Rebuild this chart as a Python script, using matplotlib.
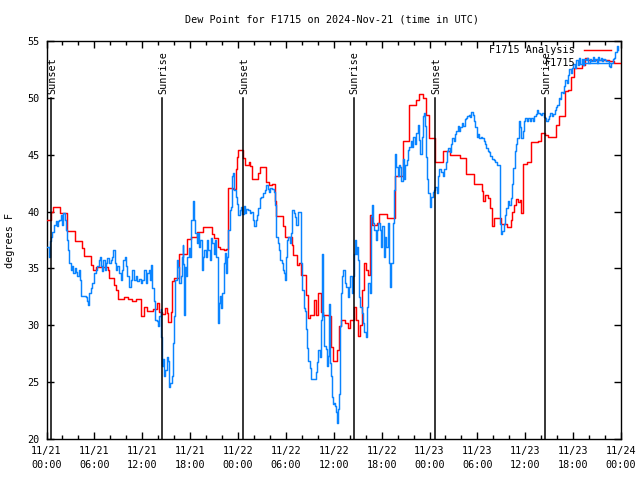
import matplotlib
matplotlib.use('Agg')
import matplotlib.pyplot as plt
from matplotlib.ticker import MultipleLocator

plt.rcParams['font.family'] = ['DejaVu Sans Mono']
FS = 7.3

title = "Dew Point for F1715 on 2024-Nov-21 (time in UTC)"
ylabel = "degrees F"

# hours since 2024-11-21 00:00 UTC
analysis_hours = [0.0, 0.6, 0.85, 1.69, 2.53, 3.6, 4.44, 4.69, 5.61, 5.86, 6.2, 7.7, 7.86, 8.45, 8.66,
    8.95, 9.7, 10.2, 10.7, 11.2, 11.79, 12.2, 12.62, 13.37, 13.83, 14.08, 14.46, 14.83, 15.08,
    15.27, 15.58, 15.77, 15.96, 16.58, 17.58, 18.17, 18.8, 19.62, 20.68, 20.96, 21.5, 21.8, 22.2,
    22.55, 22.75, 23.38, 23.72, 23.88, 24.0, 24.63, 24.84, 25.38, 25.56, 25.81, 26.5, 26.72,
    27.47, 27.88, 28.31, 28.64, 28.81, 29.64, 29.89, 30.73, 30.89, 31.39, 31.64, 31.94, 32.57,
    32.77, 32.98, 33.48, 33.73, 34.02, 34.44, 34.64, 35.39, 35.69, 35.9, 36.4, 36.61, 36.95,
    37.36, 37.77, 38.07, 38.49, 38.74, 39.02, 39.32, 39.57, 39.74, 39.99, 40.28, 40.58, 40.83,
    41.4, 41.65, 42.65, 43.62, 44.66, 45.49, 46.33, 46.66, 47.16, 47.58, 47.91, 48.75, 49.67,
    50.53, 51.79, 52.55, 53.58, 54.56, 54.76, 54.98, 55.38, 55.61, 55.82, 56.03, 56.97, 57.73,
    58.16, 58.37, 58.59, 58.8, 59.09, 59.3, 59.51, 59.76, 60.27, 60.7, 61.55, 61.98, 62.49,
    62.83, 63.89, 64.18, 64.94, 65.37, 65.79, 66.13, 67.07, 67.5, 67.92, 70.46, 71.1, 72.0]
analysis_vals = [39.3, 40.0, 40.4, 39.9, 38.3, 37.4, 36.8, 36.1, 35.3, 34.9, 35.1, 34.9, 34.2, 33.5, 33.1,
    32.3, 32.5, 32.3, 32.1, 32.3, 30.8, 31.6, 31.3, 31.4, 32.0, 31.2, 31.0, 31.5, 31.1,
    30.3, 31.2, 33.9, 34.2, 36.3, 37.6, 37.8, 38.2, 38.6, 38.0, 37.7, 36.9, 36.7, 36.6,
    36.7, 42.1, 42.0, 43.7, 44.8, 45.4, 44.7, 44.1, 44.4, 44.0, 42.9, 43.4, 43.9,
    42.6, 42.3, 42.4, 40.9, 39.6, 38.7, 37.8, 37.1, 36.2, 35.3, 35.5, 34.4, 32.7,
    30.6, 30.9, 32.2, 30.9, 32.8, 31.2, 30.9, 30.8, 28.1, 26.9, 27.8, 29.9, 30.5,
    30.2, 29.8, 30.5, 31.6, 30.5, 29.1, 30.0, 33.1, 35.5, 34.9, 34.4, 39.7, 38.8,
    39.0, 39.8, 39.4, 43.1, 46.2, 49.4, 49.8, 50.3, 50.0, 48.5, 46.5, 44.4, 45.3,
    45.0, 44.7, 43.3, 42.4, 41.8, 40.9, 41.5, 41.2, 40.3, 38.7, 39.4, 38.9, 38.6,
    39.3, 40.0, 40.6, 41.1, 40.8, 41.0, 39.9, 44.2, 44.4, 46.1, 46.2, 46.9, 46.7,
    46.6, 47.6, 48.4, 50.6, 50.7, 51.8, 52.6, 52.9, 53.5, 53.3, 53.2, 53.1, 53.1]

obs_hours = [0.03, 0.31, 0.44, 0.6, 0.73, 0.94, 1.15, 1.27, 1.44, 1.6, 1.77, 1.94, 2.1, 2.27, 2.44, 2.6,
    2.73, 2.86, 3.03, 3.23, 3.36, 3.53, 3.69, 3.86, 4.03, 4.19, 4.36, 4.61, 4.9, 5.11, 5.23, 5.36,
    5.53, 5.73, 5.94, 6.15, 6.36, 6.57, 6.7, 6.86, 6.98, 7.11, 7.28, 7.45, 7.61, 7.82, 8.03, 8.24,
    8.36, 8.53, 8.7, 8.86, 9.07, 9.28, 9.45, 9.61, 9.79, 9.91, 10.11, 10.33, 10.54, 10.74, 10.95,
    11.16, 11.36, 11.58, 11.79, 11.99, 12.2, 12.41, 12.62, 12.83, 12.95, 13.12, 13.24, 13.45,
    13.58, 13.79, 13.95, 14.12, 14.29, 14.37, 14.46, 14.54, 14.71, 14.87, 15.04, 15.21, 15.37,
    15.54, 15.71, 15.87, 15.96, 16.12, 16.3, 16.46, 16.62, 16.8, 16.96, 17.05, 17.12, 17.21,
    17.33, 17.46, 17.62, 17.8, 17.96, 18.12, 18.3, 18.37, 18.5, 18.62, 18.8, 18.96, 19.12, 19.3,
    19.46, 19.62, 19.8, 19.96, 20.13, 20.3, 20.46, 20.63, 20.8, 20.96, 21.13, 21.3, 21.46, 21.55,
    21.63, 21.8, 21.93, 22.05, 22.21, 22.38, 22.55, 22.68, 22.8, 22.97, 23.13, 23.3, 23.43, 23.55,
    23.72, 23.88, 24.05, 24.22, 24.38, 24.56, 24.72, 24.88, 25.06, 25.31, 25.47, 25.68, 25.88,
    26.06, 26.22, 26.38, 26.56, 26.72, 26.93, 27.13, 27.34, 27.56, 27.72, 27.89, 28.06, 28.31,
    28.47, 28.64, 28.81, 28.97, 29.14, 29.31, 29.47, 29.64, 29.81, 29.89, 29.97, 30.14, 30.31,
    30.48, 30.64, 30.81, 30.98, 31.14, 31.31, 31.48, 31.73, 31.85, 31.94, 32.06, 32.23, 32.39,
    32.48, 32.64, 32.82, 32.98, 33.14, 33.39, 33.57, 33.73, 33.89, 34.07, 34.23, 34.39, 34.52,
    34.64, 34.82, 34.98, 35.14, 35.32, 35.39, 35.48, 35.61, 35.73, 35.82, 35.94, 36.07, 36.2,
    36.32, 36.45, 36.57, 36.65, 36.73, 36.82, 36.95, 37.07, 37.2, 37.36, 37.57, 37.77, 37.9,
    38.07, 38.24, 38.36, 38.49, 38.61, 38.74, 38.9, 39.02, 39.15, 39.32, 39.49, 39.65, 39.82,
    39.99, 40.15, 40.32, 40.49, 40.61, 40.74, 40.9, 41.07, 41.24, 41.4, 41.57, 41.74, 41.9,
    42.08, 42.24, 42.4, 42.58, 42.74, 42.9, 43.08, 43.2, 43.4, 43.58, 43.65, 43.83, 43.99, 44.15,
    44.33, 44.49, 44.66, 44.83, 44.99, 45.16, 45.33, 45.49, 45.66, 45.83, 45.99, 46.16, 46.33,
    46.5, 46.66, 46.83, 47.0, 47.16, 47.33, 47.41, 47.5, 47.58, 47.71, 47.83, 48.0, 48.12, 48.25,
    48.41, 48.59, 48.75, 48.91, 49.09, 49.25, 49.46, 49.67, 49.84, 50.01, 50.19, 50.35, 50.53,
    50.69, 50.86, 51.03, 51.2, 51.37, 51.54, 51.72, 51.88, 52.05, 52.22, 52.39, 52.55, 52.73,
    52.9, 53.07, 53.25, 53.41, 53.58, 53.74, 53.92, 54.08, 54.26, 54.43, 54.59, 54.77, 54.93,
    55.11, 55.27, 55.44, 55.61, 55.82, 56.03, 56.25, 56.46, 56.67, 56.8, 56.88, 57.0, 57.13,
    57.3, 57.48, 57.65, 57.82, 57.99, 58.16, 58.32, 58.5, 58.67, 58.84, 59.01, 59.17, 59.35,
    59.51, 59.69, 59.85, 60.03, 60.2, 60.37, 60.54, 60.7, 60.91, 61.13, 61.3, 61.46, 61.64,
    61.8, 61.98, 62.15, 62.32, 62.49, 62.65, 62.83, 62.99, 63.16, 63.33, 63.5, 63.68, 63.84,
    64.02, 64.18, 64.36, 64.52, 64.69, 64.86, 65.03, 65.21, 65.37, 65.54, 65.71, 65.88, 66.04,
    66.22, 66.38, 66.56, 66.73, 66.9, 67.07, 67.23, 67.41, 67.57, 67.75, 67.92, 68.08, 68.26,
    68.43, 68.6, 68.76, 68.94, 69.1, 69.27, 69.45, 69.61, 69.79, 69.95, 70.12, 70.29, 70.46,
    70.62, 70.8, 70.97, 71.14, 71.31, 71.47, 71.65]
obs_vals = [36.9, 36.0, 37.4, 37.8, 38.2, 38.8, 39.2, 38.7, 39.2, 39.3, 39.7, 38.8, 39.9, 39.3, 38.4, 37.5,
    36.6, 35.5, 34.9, 35.2, 34.6, 35.0, 34.7, 34.3, 34.9, 34.0, 32.6, 32.6, 32.5, 32.1, 31.8, 32.8,
    33.3, 33.7, 34.6, 34.9, 35.2, 35.7, 36.0, 35.2, 34.8, 35.7, 34.9, 35.5, 35.9, 35.5, 35.7, 36.0,
    36.6, 35.5, 34.9, 35.2, 34.6, 34.0, 34.9, 35.7, 36.0, 35.2, 34.3, 33.4, 34.0, 34.9, 34.0,
    34.3, 33.9, 34.1, 33.7, 34.0, 34.9, 33.7, 34.6, 34.9, 34.0, 35.3, 33.3, 32.1,
    30.5, 30.4, 29.9, 30.8, 31.4, 29.0, 26.4, 27.0, 25.5, 26.1, 27.2, 26.9, 24.6,
    24.9, 25.5, 28.4, 30.8, 34.0, 35.7, 35.1, 33.7, 34.3, 36.0, 37.1, 35.4, 30.9,
    35.1, 34.3, 36.0, 36.8, 36.0, 39.3, 39.6, 40.9, 39.3, 38.1, 37.2, 38.1, 36.9, 37.5,
    34.9, 36.0, 36.6, 36.0, 37.5, 36.6, 35.7, 37.7, 37.2, 36.3, 37.5, 36.0, 33.4, 30.2,
    32.0, 32.6, 31.5, 32.8, 35.5, 36.4, 34.6, 36.0, 38.4, 40.1, 40.4, 43.1, 43.4, 41.9,
    41.3, 40.7, 39.7, 40.1, 40.4, 39.8, 40.5, 39.9, 40.2, 40.1, 39.9, 40.0, 39.3,
    38.7, 39.3, 39.7, 40.3, 41.2, 41.3, 41.6, 41.9, 42.3, 42.0, 41.7, 42.1, 42.0,
    41.7, 40.6, 37.8, 37.2, 36.6, 35.7, 35.5, 34.9, 34.6, 34.0, 36.0, 37.5, 37.8,
    37.2, 38.1, 40.1, 39.9, 39.5, 38.8, 40.0, 40.0, 37.2, 35.5, 33.1, 31.5, 31.3,
    29.7, 28.0, 26.9, 26.2, 25.3, 25.3, 25.3, 25.9, 26.8, 27.8, 27.2, 30.5, 36.3,
    30.8, 28.2, 27.9, 26.4, 27.3, 31.9, 26.7, 25.5, 24.3, 23.7, 23.1, 23.2, 22.9,
    22.4, 21.4, 22.6, 24.0, 26.7, 29.9, 32.8, 34.3, 34.9, 33.7, 33.4, 32.5, 33.4,
    34.3, 32.8, 34.3, 36.3, 37.5, 36.3, 36.9, 35.7, 32.5, 31.6, 31.1, 30.2, 29.4,
    29.0, 31.6, 33.7, 32.8, 39.6, 40.6, 39.0, 38.4, 37.5, 38.4, 39.0, 38.4, 36.9,
    38.7, 36.0, 37.8, 36.9, 39.0, 35.5, 33.4, 35.5, 39.0, 41.9, 45.1, 43.9, 43.1, 44.1,
    43.9, 42.7, 44.6, 42.9, 44.1, 44.5, 45.4, 45.7, 46.2, 45.7, 46.6, 45.9, 46.9,
    47.6, 46.3, 45.1, 46.6, 48.4, 48.7, 47.5, 46.4, 44.8, 42.9, 41.6, 40.6, 40.4, 41.3,
    41.7, 41.9, 42.2, 41.6, 43.1, 43.7, 43.5, 43.1, 43.7, 44.4, 45.3, 45.6, 45.2,
    45.9, 46.5, 46.2, 46.8, 47.1, 47.5, 47.1, 47.4, 47.8, 47.5, 48.1, 48.2, 48.4,
    48.5, 48.3, 48.8, 48.5, 48.0, 47.4, 46.6, 46.8, 46.5, 46.6, 46.5, 46.2, 45.9,
    45.6, 45.3, 45.2, 44.9, 44.6, 44.5, 44.4, 44.1, 44.1, 41.2, 38.9, 38.0, 38.3,
    38.9, 39.7, 40.3, 40.9, 40.6, 41.2, 42.4, 43.8, 45.3, 45.9, 46.5, 48.0, 47.4,
    46.5, 47.1, 48.0, 48.2, 48.0, 48.2, 48.0, 48.2, 48.0, 48.4, 48.6, 48.9, 48.7,
    48.6, 48.5, 48.7, 48.3, 48.2, 48.0, 48.1, 48.4, 48.7, 48.4, 48.6, 48.9, 49.2,
    49.4, 50.0, 49.9, 50.5, 50.4, 51.0, 51.6, 51.3, 52.0, 52.5, 52.2, 52.6, 53.0,
    52.6, 53.3, 52.9, 53.5, 53.0, 53.4, 52.9, 53.4, 53.3, 53.5, 53.1, 53.4, 53.2,
    53.6, 53.2, 53.4, 53.1, 53.6, 53.3, 53.5, 53.2, 53.4, 53.3, 53.2, 53.2, 52.8,
    52.7, 53.1, 53.4, 53.5, 54.0, 54.6, 54.2]

sun_hours = [0.6, 14.46, 24.63, 38.49, 48.66, 62.52]
sun_labels = ["Sunset", "Sunrise", "Sunset", "Sunrise", "Sunset", "Sunrise"]

xtick_hours = [0, 6, 12, 18, 24, 30, 36, 42, 48, 54, 60, 66, 72]
xtick_labels = ["11/21\n00:00", "11/21\n06:00", "11/21\n12:00", "11/21\n18:00",
                "11/22\n00:00", "11/22\n06:00", "11/22\n12:00", "11/22\n18:00",
                "11/23\n00:00", "11/23\n06:00", "11/23\n12:00", "11/23\n18:00",
                "11/24\n00:00"]
ytick_vals = [20, 25, 30, 35, 40, 45, 50, 55]

legend_names = ["F1715 Analysis", "F1715"]
red = "#ff0000"
blue = "#0a84ff"

fig = plt.figure(figsize=(6.4, 4.8), dpi=100)
L, R, T, B = 46.5, 621, 41, 439
ax = fig.add_axes([L / 640, 1 - B / 480, (R - L) / 640, (B - T) / 480])

ax.plot(analysis_hours, analysis_vals, drawstyle="steps-post", color=red, lw=1.05, zorder=3)
ax.plot(obs_hours, obs_vals, drawstyle="steps-post", color=blue, lw=1.05, zorder=4)

for h, lab in zip(sun_hours, sun_labels):
    ax.plot([h, h], [20, 50], color="black", lw=1.1, zorder=5)
    ax.text(h + 0.15, 50.3, lab, rotation=90, ha="center", va="bottom", fontsize=FS, zorder=6)

ax.set_xlim(0, 72)
ax.set_ylim(20, 55)
ax.set_xticks(xtick_hours)
ax.set_xticklabels(xtick_labels, fontsize=FS, linespacing=1.45)
ax.xaxis.set_minor_locator(MultipleLocator(2))
ax.set_yticks(ytick_vals)
ax.set_yticklabels([str(v) for v in ytick_vals], fontsize=FS)
ax.tick_params(which="major", direction="in", top=True, right=True, length=5, width=1, pad=5)
ax.tick_params(which="minor", direction="in", top=True, right=False, left=False, length=3, width=1)
for s in ax.spines.values():
    s.set_linewidth(1)

# legend (gnuplot style, top right)
ax.text(0.92, 0.977, legend_names[0], transform=ax.transAxes, ha="right", va="center", fontsize=FS, zorder=7)
ax.plot([0.936, 0.982], [0.977, 0.977], transform=ax.transAxes, color=red, lw=1.05, zorder=7)
ax.text(0.92, 0.945, legend_names[1], transform=ax.transAxes, ha="right", va="center", fontsize=FS, zorder=7)
ax.plot([0.936, 0.982], [0.945, 0.945], transform=ax.transAxes, color=blue, lw=1.05, zorder=7)

fig.text(332 / 640, 1 - 20 / 480, title, ha="center", va="center", fontsize=FS)
fig.text(10 / 640, 0.5, ylabel, rotation=90, ha="center", va="center", fontsize=FS)

fig.savefig("out.png", dpi=100)
